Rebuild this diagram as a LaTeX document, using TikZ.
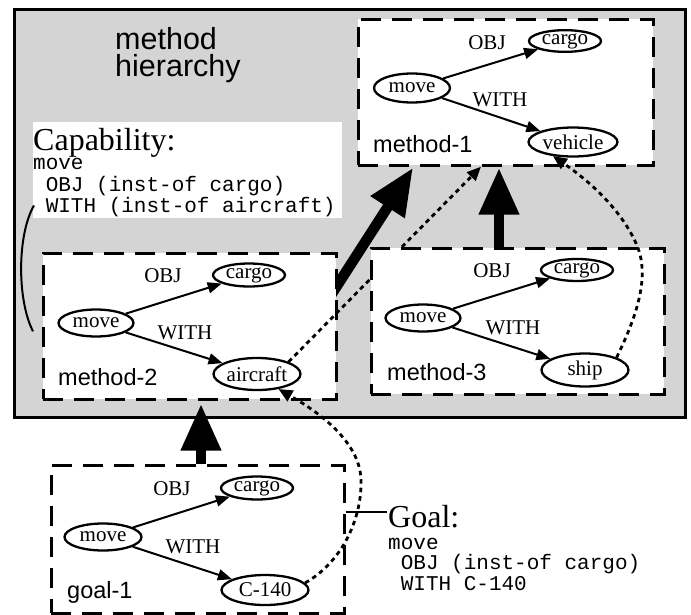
\documentclass[tikz,border=0pt]{standalone}
\usepackage{fontspec}
\setmainfont{Liberation Serif}
\newfontfamily\fsans{Liberation Sans}
\newfontfamily\fmono{Liberation Mono}
\usetikzlibrary{arrows.meta,shapes.geometric,calc}
\definecolor{bggray}{RGB}{212,212,212}
\pgfdeclarelayer{back}
\pgfdeclarelayer{under}
\pgfsetlayers{back,under,main}
\begin{document}
\begin{tikzpicture}[x=1pt,y=-1pt,
  ell/.style={draw, ellipse, line width=2.3pt, inner sep=0pt, font=\fontsize{21}{24}\selectfont},
  dbox/.style={draw, fill=white, line width=2.7pt, dash pattern=on 20pt off 11pt, anchor=north west, inner sep=0pt},
  rel/.style={line width=2pt, -{Triangle[width=11pt,length=14pt]}},
  lbl/.style={anchor=base, inner sep=0pt, font=\fontsize{21}{24}\selectfont},
  mname/.style={anchor=base west, inner sep=0pt, font=\fsans\fontsize{23.5}{28}\selectfont},
  bigarrow/.style={line width=10.5pt, -{Triangle[width=38pt,length=47pt]}},
  dotarrow/.style={line width=2.8pt, dash pattern=on 4.5pt off 4pt, -{Triangle[width=12pt,length=14pt]}},
  monoline/.style={anchor=base west, inner sep=0pt, font=\fmono\fontsize{21}{21}\selectfont},
  capfont/.style={anchor=base west, inner sep=0pt, font=\fontsize{32}{36}\selectfont},
]
\useasboundingbox (0,0) rectangle (691,614);

\begin{pgfonlayer}{back}
\node[draw, fill=bggray, line width=2.8pt, anchor=north west, inner sep=0pt,
      minimum width=671pt, minimum height=408pt] (hier) at (13,8) {};
\end{pgfonlayer}

% title
\node[anchor=north west, inner sep=0pt, align=left, font=\fsans\fontsize{30.5}{27.5}\selectfont] (mh) at (115,27) {method\\hierarchy};

% capability
\node[fill=white, anchor=north west, inner sep=0pt, minimum width=309pt, minimum height=96pt] (cap) at (33,122) {};
\node[capfont] (capT) at (33,150) {Capability:};
\node[monoline] (capA) at (33,169) {move};
\node[monoline] (capB) at (45.6,191) {OBJ (inst-of cargo)};
\node[monoline] (capC) at (45.6,212) {WITH (inst-of aircraft)};

% method-1
\node[dbox, minimum width=295pt, minimum height=146pt] (m1) at (357,18) {};
\node[ell, minimum width=76pt, minimum height=29pt] (mv1) at (412,88) {move};
\node[ell, minimum width=72pt, minimum height=20pt] (cg1) at (565,41) {cargo};
\node[ell, minimum width=89pt, minimum height=29pt] (vh1) at (573,142) {vehicle};
\draw[rel] (mv1) -- (cg1);
\draw[rel] (mv1) -- (vh1);
\node[lbl] (ob1) at (487,49) {OBJ};
\node[lbl] (wi1) at (500,106) {WITH};
\node[mname] (n1) at (373,152) {method-1};

% method-2
\node[dbox, minimum width=293pt, minimum height=146pt] (m2) at (42,252) {};
\node[ell, minimum width=75pt, minimum height=27pt] (mv2) at (96,323) {move};
\node[ell, minimum width=72pt, minimum height=23pt] (cg2) at (249,275) {cargo};
\node[ell, minimum width=87pt, minimum height=32pt] (ac2) at (257,374) {aircraft};
\draw[rel] (mv2) -- (cg2);
\draw[rel] (mv2) -- (ac2);
\node[lbl] (ob2) at (163,282) {OBJ};
\node[lbl] (wi2) at (185,339) {WITH};
\node[mname] (n2) at (58,385) {method-2};

% aircraft -> method-1
\draw[dotarrow] (ac2.north east) -- ($(m1.south west)+(124,0)$);

% method-3
\node[dbox, minimum width=293pt, minimum height=146pt] (m3) at (370,247) {};
\node[ell, minimum width=75pt, minimum height=27pt] (mv3) at (423,318) {move};
\node[ell, minimum width=72pt, minimum height=22pt] (cg3) at (577,270) {cargo};
\node[ell, minimum width=87pt, minimum height=33pt] (sh3) at (585,370) {ship};
\draw[rel] (mv3) -- (cg3);
\draw[rel] (mv3) -- (sh3);
\node[lbl] (ob3) at (492,277) {OBJ};
\node[lbl] (wi3) at (513,334) {WITH};
\node[mname] (n3) at (387,380) {method-3};

% ship -> vehicle
\draw[dotarrow] (sh3.north east) .. controls (640,310) and (648,275) .. (638,248)
   .. controls (625,215) and (595,185) .. (vh1.-145);

% goal-1
\node[dbox, minimum width=293pt, minimum height=148pt] (g1) at (50,464) {};
\node[ell, minimum width=77pt, minimum height=27pt] (mv4) at (103,537) {move};
\node[ell, minimum width=72pt, minimum height=23pt] (cg4) at (257,488) {cargo};
\node[ell, minimum width=87pt, minimum height=30pt] (c4) at (265,590) {C-140};
\draw[rel] (mv4) -- (cg4);
\draw[rel] (mv4) -- (c4);
\node[lbl] (ob4) at (172,495) {OBJ};
\node[lbl] (wi4) at (193,553) {WITH};
\node[mname] (n4) at (67,598) {goal-1};

% C-140 -> aircraft
\draw[dotarrow] (c4.10) .. controls (345,560) and (362,515) .. (361,480)
   .. controls (360,440) and (315,410) .. (ac2.-35);

% goal text
\node[capfont] (goalT) at (388,527) {Goal:};
\node[monoline] (goalA) at (388,549) {move};
\node[monoline] (goalB) at (400.6,569) {OBJ (inst-of cargo)};
\node[monoline] (goalC) at (400.6,590) {WITH C-140};
\draw[line width=2pt] ($(g1.north east)+(0,48)$) -- ($(goalT.base west)+(-1,-15)$);

% capability connector
\draw[line width=2pt] ($(cap.south west)+(1,-13)$) .. controls (17,235) and (17,300) .. ($(m2.west)+(-9,5)$);

% big arrows
\begin{pgfonlayer}{under}
\draw[bigarrow] ($(m2.north east)+(-15,56)$) -- ($(m1.south west)+(56,1)$);
\draw[bigarrow] ($(m3.north west)+(129,0)$) -- ($(m1.south west)+(142,1)$);
\draw[bigarrow] ($(g1.north west)+(151,0)$) -- ($(m2.south west)+(159,3)$);
\end{pgfonlayer}
\end{tikzpicture}
\end{document}
